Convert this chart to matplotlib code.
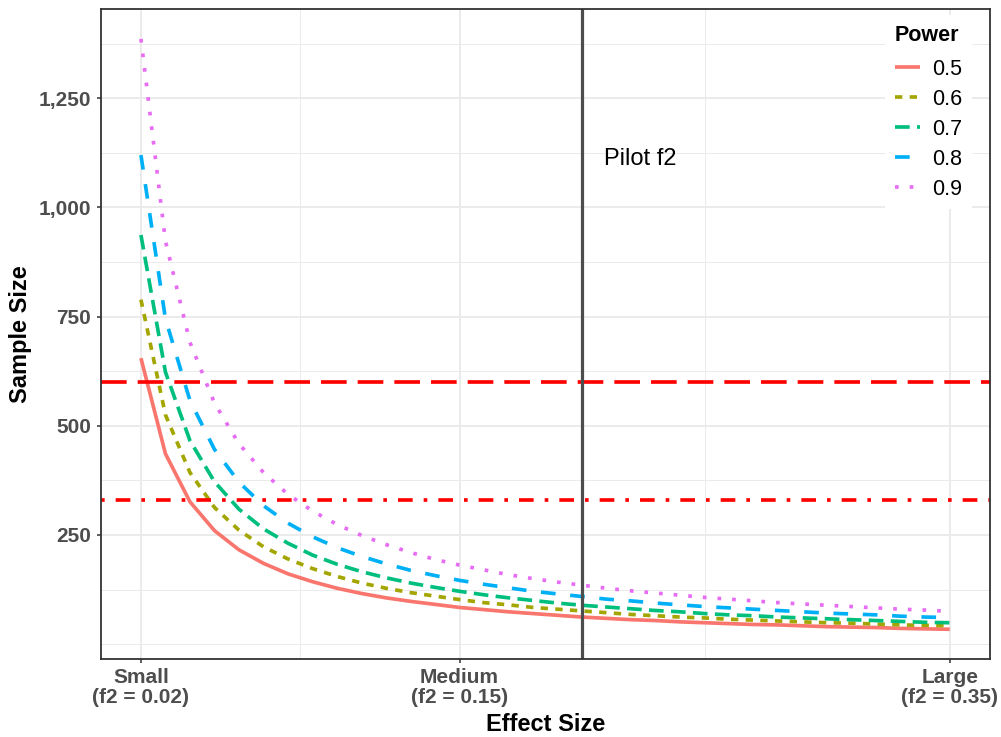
import matplotlib
matplotlib.use("Agg")
import matplotlib.pyplot as plt

plt.rcParams["font.family"] = ["Liberation Sans", "DejaVu Sans"]

# Effect size grid (Cohen's f2) and required sample sizes per power level
effect_size = [0.02, 0.03, 0.04, 0.05, 0.06, 0.07, 0.08, 0.09, 0.10, 0.11,
               0.12, 0.13, 0.14, 0.15, 0.16, 0.17, 0.18, 0.19, 0.20, 0.21,
               0.22, 0.23, 0.24, 0.25, 0.26, 0.27, 0.28, 0.29, 0.30, 0.31,
               0.32, 0.33, 0.34, 0.35]

n_power_05 = [655, 436, 326, 260, 216, 185, 161, 143, 128, 116,
              106, 98, 91, 84, 79, 74, 70, 66, 62, 59,
              56, 54, 51, 49, 47, 45, 44, 42, 40, 39,
              38, 36, 35, 34]
n_power_06 = [789, 525, 393, 313, 261, 223, 195, 173, 155, 140,
              128, 118, 110, 102, 95, 90, 84, 80, 76, 72,
              68, 65, 62, 60, 57, 55, 53, 51, 49, 48,
              46, 44, 43, 42]
n_power_07 = [937, 623, 466, 372, 309, 264, 231, 204, 183, 166,
              152, 140, 130, 121, 113, 106, 100, 94, 89, 85,
              81, 77, 74, 70, 67, 65, 62, 60, 58, 56,
              54, 52, 50, 49]
n_power_08 = [1120, 745, 558, 446, 371, 317, 277, 246, 221, 201,
              184, 169, 157, 146, 137, 129, 121, 115, 109, 103,
              99, 94, 90, 86, 83, 80, 77, 74, 71, 69,
              67, 64, 62, 61]
n_power_09 = [1386, 923, 691, 552, 459, 393, 343, 305, 274, 249,
              228, 210, 194, 181, 170, 159, 150, 142, 135, 128,
              122, 117, 112, 107, 103, 99, 95, 92, 89, 86,
              83, 80, 78, 75]

power_labels = ["0.5", "0.6", "0.7", "0.8", "0.9"]
series = [n_power_05, n_power_06, n_power_07, n_power_08, n_power_09]

x_ticks = [0.02, 0.15, 0.35]
x_tick_labels = ["Small\n(f2 = 0.02)", "Medium\n(f2 = 0.15)", "Large\n(f2 = 0.35)"]
x_minor = [0.085, 0.25]
y_ticks = [250, 500, 750, 1000, 1250]
y_tick_labels = ["250", "500", "750", "1,000", "1,250"]
y_minor = [0, 125, 375, 625, 875, 1125, 1375]

pilot_f2 = 0.2
upper_n = 600
lower_n = 330

# ggplot-style hue palette and line types
colors = ["#F8766D", "#A3A500", "#00BF7D", "#00B0F6", "#E76BF3"]
dash_styles = [None, (2, 2), (4, 2), (4, 4), (1, 3)]
LW = 2.64

fig = plt.figure(figsize=(10.01, 7.37), dpi=100)
ax = fig.add_axes([0.1004, 0.1061, 0.8888, 0.8811])

for vals, lab, col, dash in zip(series, power_labels, colors, dash_styles):
    if dash is None:
        ax.plot(effect_size, vals, color=col, lw=LW, label=lab,
                solid_capstyle="butt", solid_joinstyle="round")
    else:
        ax.plot(effect_size, vals, color=col, lw=LW, label=lab, dashes=dash,
                dash_capstyle="butt", dash_joinstyle="round")

ax.axhline(upper_n, color="#FF0000", lw=LW, dashes=(7, 3))
ax.axhline(lower_n, color="#FF0000", lw=LW, dashes=(1, 3, 4, 3))
ax.axvline(pilot_f2, color="#4D4D4D", lw=2.3)
ax.text(0.2091, 1097, "Pilot f2", fontsize=17, ha="left", va="baseline",
        color="black")

# limits with 5% expansion on both axes
all_y = [v for s in series for v in s]
y_lo, y_hi = min(all_y), max(all_y)
y_pad = 0.05 * (y_hi - y_lo)
x_lo, x_hi = min(effect_size), max(effect_size)
x_pad = 0.05 * (x_hi - x_lo)
ax.set_xlim(x_lo - x_pad, x_hi + x_pad)
ax.set_ylim(y_lo - y_pad, y_hi + y_pad)

ax.set_xticks(x_ticks)
ax.set_xticklabels(x_tick_labels, linespacing=1.05)
ax.set_xticks(x_minor, minor=True)
ax.set_yticks(y_ticks)
ax.set_yticklabels(y_tick_labels)
ax.set_yticks(y_minor, minor=True)

ax.set_axisbelow(True)
ax.grid(which="major", color="#EBEBEB", lw=1.4)
ax.grid(which="minor", color="#EBEBEB", lw=0.7)
ax.tick_params(which="minor", length=0)
ax.tick_params(which="major", length=3.2, width=1.1, color="#333333",
               labelcolor="#4D4D4D", labelsize=15, pad=3.5)
for lbl in ax.get_xticklabels() + ax.get_yticklabels():
    lbl.set_fontweight("bold")
for sp in ax.spines.values():
    sp.set_color("#333333")
    sp.set_linewidth(1.3)

ax.set_xlabel("Effect Size", fontsize=17, fontweight="bold", color="black")
ax.set_ylabel("Sample Size", fontsize=17, fontweight="bold", color="black")
ax.xaxis.set_label_coords(0.5, -0.084)
ax.yaxis.set_label_coords(-0.077, 0.5)

leg_fs = 15.5
leg = ax.legend(title="Power", loc="upper left", bbox_to_anchor=(0.8818, 0.9914),
                borderaxespad=0, frameon=True, facecolor="white",
                edgecolor="none", framealpha=1, fancybox=False, fontsize=leg_fs,
                title_fontproperties={"weight": "bold", "size": leg_fs},
                handlelength=1.16, handletextpad=0.6, labelspacing=0.42,
                borderpad=0.45, alignment="left")
# a little extra room between the legend title and its entries
leg._legend_box.sep = 0.6 * leg_fs

fig.savefig("out.png", dpi=100)
